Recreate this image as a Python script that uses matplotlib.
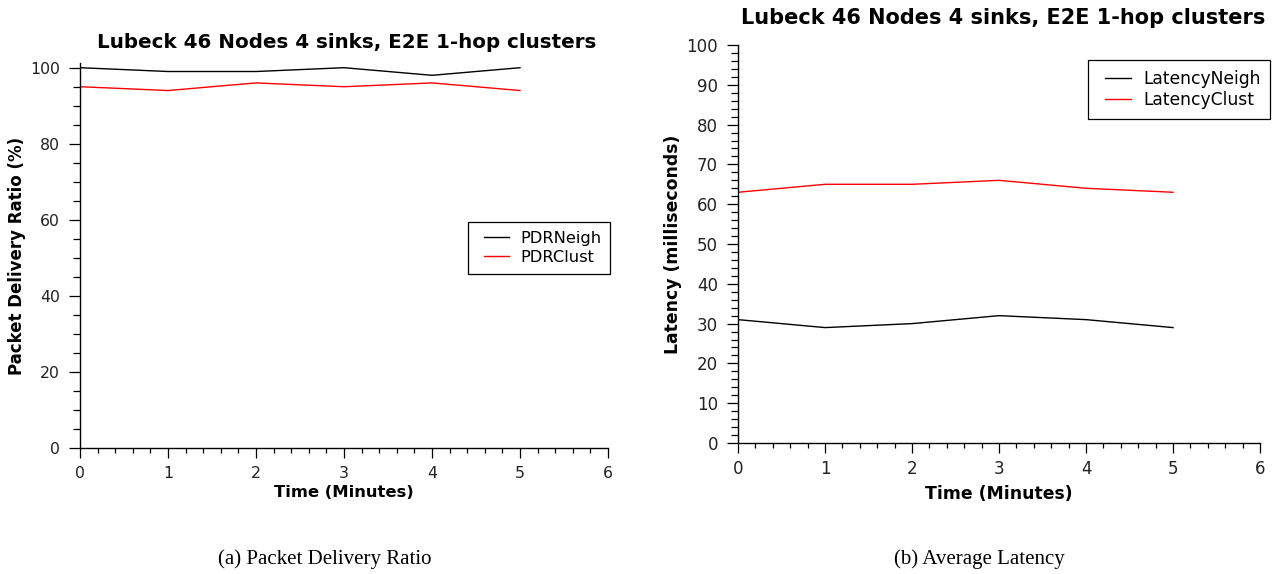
"""Lubeck 46 nodes: PDR and latency, neighbour vs 1-hop cluster routing."""

import matplotlib
matplotlib.use("Agg")
import matplotlib.pyplot as plt
from matplotlib.legend_handler import HandlerLine2D
from matplotlib.ticker import MultipleLocator

TITLE = "Lubeck 46 Nodes 4 sinks, E2E 1-hop clusters"

minutes = [0, 1, 2, 3, 4, 5]
pdr_neigh = [100, 99, 99, 100, 98, 100]
pdr_clust = [95, 94, 96, 95, 96, 94]
lat_neigh = [31, 29, 30, 32, 31, 29]
lat_clust = [63, 65, 65, 66, 64, 63]


def _style_axes(ax, tick_size, y_major, y_minor, xpad):
    ax.spines["top"].set_visible(False)
    ax.spines["right"].set_visible(False)
    ax.spines["left"].set_linewidth(1.0)
    ax.spines["bottom"].set_linewidth(1.0)
    ax.set_xlim(0, 6)
    ax.xaxis.set_major_locator(MultipleLocator(1))
    ax.xaxis.set_minor_locator(MultipleLocator(0.2))
    ax.yaxis.set_major_locator(MultipleLocator(y_major))
    ax.yaxis.set_minor_locator(MultipleLocator(y_minor))
    ax.tick_params(which="both", direction="out", width=0.9,
                   labelsize=tick_size, colors="black", labelcolor="#222222")
    ax.tick_params(axis="x", which="major", length=7, pad=xpad)
    ax.tick_params(axis="x", which="minor", length=3.5)
    ax.tick_params(axis="y", which="major", length=8, pad=6.5)
    ax.tick_params(axis="y", which="minor", length=5)


def _legend(ax, anchor, size):
    # short line handles, indented a bit from the frame
    leg = ax.legend(loc="upper right", bbox_to_anchor=anchor,
                    borderaxespad=0, fontsize=size, frameon=True,
                    fancybox=False, edgecolor="black", framealpha=1,
                    handlelength=1.95, handletextpad=0.7,
                    borderpad=0.55, labelspacing=0.22,
                    handler_map={plt.Line2D: HandlerLine2D(xpad=0.42)})
    leg.get_frame().set_linewidth(0.9)
    return leg


fig = plt.figure(figsize=(12.76, 5.74), dpi=100)

# (a) packet delivery ratio
ax1 = fig.add_axes([0.0627, 0.2195, 0.4138, 0.6705])
ax1.plot(minutes, pdr_neigh, color="black", linewidth=1.0, label="PDRNeigh")
ax1.plot(minutes, pdr_clust, color="red", linewidth=1.0, label="PDRClust")
ax1.set_ylim(0, 101.2)
_style_axes(ax1, 11.3, 20, 5, 6)
ax1.set_xlabel("Time (Minutes)", fontsize=11.8, fontweight="bold")
ax1.xaxis.set_label_coords(0.5, -0.096)
ax1.set_ylabel("Packet Delivery Ratio (%)", fontsize=12, fontweight="bold")
ax1.yaxis.set_label_coords(-0.102, 0.5)
ax1.set_title(TITLE, fontsize=14.3, fontweight="bold", pad=11, x=0.506)
_legend(ax1, (1.004, 0.587), 11.7)

# (b) average latency
ax2 = fig.add_axes([0.5784, 0.2282, 0.4091, 0.6934])
ax2.plot(minutes, lat_neigh, color="black", linewidth=1.0, label="LatencyNeigh")
ax2.plot(minutes, lat_clust, color="red", linewidth=1.0, label="LatencyClust")
ax2.set_ylim(0, 100)
_style_axes(ax2, 12, 10, 2, 5)
ax2.set_xlabel("Time (Minutes)", fontsize=12.4, fontweight="bold")
ax2.xaxis.set_label_coords(0.5, -0.1055)
ax2.set_ylabel("Latency (milliseconds)", fontsize=12.4, fontweight="bold")
ax2.yaxis.set_label_coords(-0.107, 0.5)
ax2.set_title(TITLE, fontsize=15, fontweight="bold", pad=15, x=0.5086)
_legend(ax2, (1.019, 0.962), 12.3)

# subfigure captions
fig.text(325 / 1276, 0.0261, "(a) Packet Delivery Ratio", ha="center",
         va="center", fontsize=15, family="Liberation Serif")
fig.text(979.5 / 1276, 0.0261, "(b) Average Latency", ha="center",
         va="center", fontsize=15, family="Liberation Serif")

fig.savefig("out.png", dpi=100)
